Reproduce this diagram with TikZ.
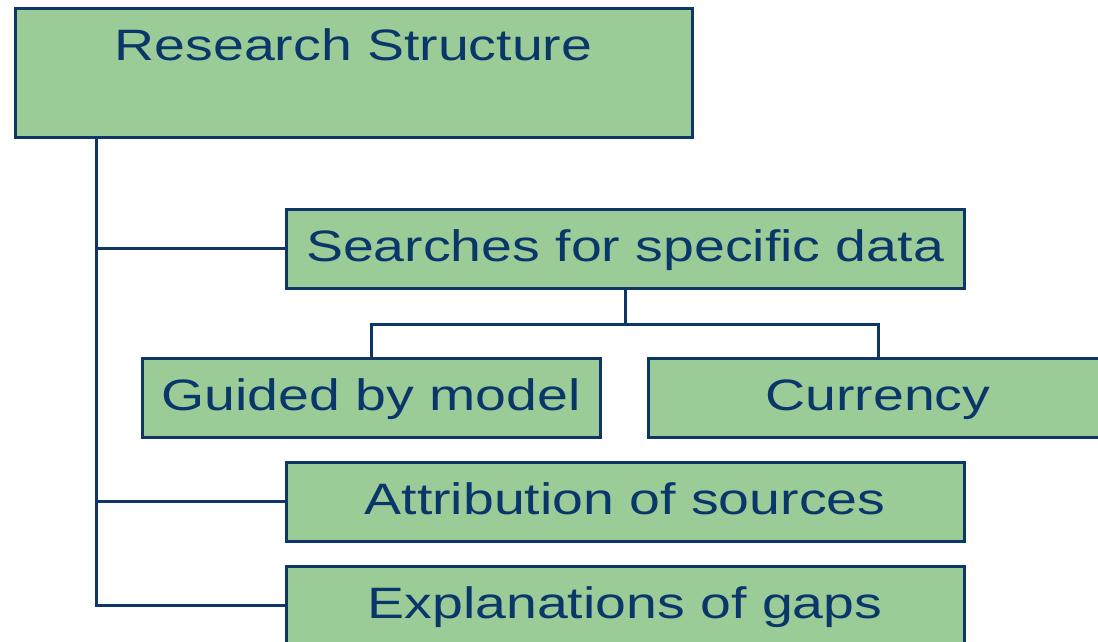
\documentclass[tikz,border=0pt]{standalone}
\usepackage{fontspec}
\setmainfont{Liberation Sans}[FakeStretch=1.26]
\definecolor{boxfill}{RGB}{155,204,152}
\definecolor{boxline}{RGB}{14,55,104}
\definecolor{boxtext}{RGB}{10,55,105}
\begin{document}
\begin{tikzpicture}[x=1pt,y=-1pt,
  box/.style={draw=boxline, fill=boxfill, line width=3pt, text=boxtext,
    font=\fontsize{44}{50}\selectfont, inner xsep=0pt, inner ysep=0pt,
    text height=52pt, text depth=27pt, minimum height=79pt},
  conn/.style={draw=boxline, line width=3pt}]
\clip (0,0) rectangle (1098,642);
\node[box, minimum width=677pt, minimum height=128pt, text depth=76pt] (rs) at (353.5,73) {Research Structure};
\node[box, minimum width=678pt] (sd) at (625,248.5) {Searches for specific data};
\node[box, minimum width=458pt] (gm) at (371,398) {Guided by model};
\node[box, minimum width=460pt] (cu) at (878,398) {Currency};
\node[box, minimum width=678pt] (at) at (625,501.5) {Attribution of sources};
\node[box, minimum width=678pt] (eg) at (625,605.5) {Explanations of gaps};
\coordinate (trunk) at (96,137);
\draw[conn] (trunk) |- (sd.west);
\draw[conn] (trunk) |- (at.west);
\draw[conn] (trunk) |- (eg.west);
\draw[conn] (sd.south) -- ++(0,35) -| (gm.north);
\draw[conn] (sd.south) -- ++(0,35) -| (cu.north);
\end{tikzpicture}
\end{document}
